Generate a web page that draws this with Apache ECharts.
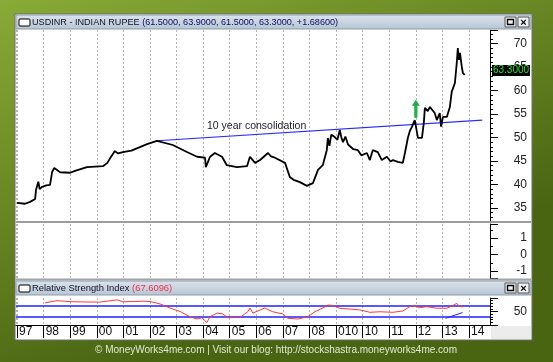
<!DOCTYPE html>
<html><head><meta charset="utf-8">
<script src="https://cdn.jsdelivr.net/npm/echarts@6/dist/echarts.min.js"></script>
<style>html,body{margin:0;padding:0;background:#6d8f24}#c{width:553px;height:362px}</style>
</head><body><div id="c"></div>
<script>
// ---- data ----
const priceYears = [1997.0,1997.3,1997.49,1997.56,1997.68,1997.71,1997.8,1997.85,1997.94,1998.1,1998.24,1998.32,1998.4,1998.62,1999.0,1999.18,1999.63,2000.23,2000.4,2000.5,2000.68,2000.8,2000.98,2001.3,2001.55,2001.89,2002.26,2002.86,2003.39,2003.77,2004.07,2004.1,2004.26,2004.44,2004.71,2004.89,2005.27,2005.65,2005.76,2005.95,2006.14,2006.3,2006.44,2006.55,2006.7,2007.08,2007.26,2007.4,2007.64,2007.9,2008.13,2008.32,2008.5,2008.65,2008.69,2008.75,2008.82,2008.95,2009.05,2009.14,2009.2,2009.26,2009.35,2009.45,2009.52,2009.65,2009.82,2009.95,2010.16,2010.27,2010.38,2010.57,2010.72,2010.91,2011.05,2011.14,2011.32,2011.51,2011.59,2011.7,2011.78,2011.85,2011.96,2012.08,2012.23,2012.3,2012.34,2012.45,2012.53,2012.71,2012.79,2012.9,2012.95,2013.02,2013.17,2013.28,2013.35,2013.47,2013.54,2013.58,2013.62,2013.66,2013.73,2013.77,2013.84];
const priceValues = [36.1,35.9,36.3,36.7,36.9,38.8,40.6,39.0,39.5,39.8,39.9,42.7,43.5,42.6,42.5,42.9,43.7,43.9,44.6,45.6,47.1,46.6,46.9,47.2,47.8,48.6,49.3,48.4,46.9,45.9,45.7,43.7,45.9,46.7,45.9,44.1,43.7,43.9,45.9,44.6,45.2,46.0,46.7,46.0,45.7,44.6,41.6,41.0,40.5,39.7,40.3,43.1,44.1,47.3,49.9,48.2,50.6,50.1,49.5,51.6,50.0,49.0,50.2,48.5,48.8,47.5,47.3,46.2,46.7,45.2,47.3,46.9,45.2,45.9,44.9,45.2,44.8,44.6,46.7,49.9,51.5,52.2,53.7,49.9,49.9,53.1,56.3,55.6,56.5,55.2,53.7,55.2,52.3,54.4,54.4,56.5,59.7,61.6,65.9,69.0,66.5,68.0,65.0,63.7,63.3];
const rsiYears = [1998.05,1998.5,1999.1,1999.74,2000.12,2000.76,2000.98,2001.74,2002.0,2002.38,2002.75,2003.13,2003.5,2003.77,2003.95,2004.14,2004.26,2004.52,2004.74,2004.93,2005.38,2005.68,2005.76,2005.87,2006.32,2006.62,2007.0,2007.19,2007.56,2007.94,2008.2,2008.5,2008.69,2008.88,2009.14,2009.52,2009.89,2010.27,2010.65,2011.14,2011.51,2011.77,2011.89,2012.15,2012.41,2012.79,2013.17,2013.39,2013.54,2013.65,2013.77];
const rsiValues = [82,90,86,85,85,93,86,88,87,78,63,50,31,22,27,9,31,44,41,27,28,49,63,44,63,49,41,25,22,31,49,63,74,72,62,59,56,47,49,47,52,68,72,64,68,62,62,72,80,68,67.6];
const trendLine = [[2002.26, 49.3], [2014.5, 53.7]];
const rsiTrend = [[2013.12, 25], [2013.76, 46]];
const rsiBands = [70, 30];
const arrowPoint = [2012.0, 56.1];
const xTickYears = [1997,1998,1999,2000,2001,2002,2003,2004,2005,2006,2007,2008,2009,2010,2011,2012,2013,2014];
const xTickLabels = ['97','98','99','00','01','02','03','04','05','06','07','08','010','10','11','12','13','14'];
const titleName = 'USDINR - INDIAN RUPEE';
const titleValues = ['61.5000','63.9000','61.5000','63.3000','+1.68600'];
const rsiTitle = 'Relative Strength Index';
const rsiLast = '67.6096';
const lastTag = '63.3000';
const noteText = '10 year consolidation';
const footer = '\u00A9 MoneyWorks4me.com | Visit our blog: http://stockshastra.moneyworks4me.com';

const FONT = 'Liberation Sans';
const xMin = 1996.96, xMax = 2014.79;
const priceData = priceYears.map((y, i) => [y, priceValues[i]]);
const rsiData = rsiYears.map((y, i) => [y, rsiValues[i]]);

function xAxisCfg(idx, showLabels) {
  return {
    type: 'value', gridIndex: idx, min: xMin, max: xMax, splitNumber: 18,
    axisLine: { show: showLabels, lineStyle: { color: '#000', width: 1 } },
    axisTick: { show: showLabels, length: 13, lineStyle: { color: '#000' } },
    axisLabel: {
      show: showLabels, showMinLabel: false, showMaxLabel: false, align: 'left', margin: 1,
      padding: [0, 0, 0, 2], fontFamily: FONT, fontSize: 12, color: '#111',
      formatter: v => { const i = xTickYears.findIndex(y => Math.abs(y - v) < 1e-6); return i >= 0 ? xTickLabels[i] : ''; }
    },
    splitLine: { show: true, lineStyle: { type: [2, 2], color: '#b4b4b4', width: 1 } }
  };
}
function yAxisCfg(idx, opts) {
  return Object.assign({
    type: 'value', gridIndex: idx, position: 'right',
    axisLine: { show: true, lineStyle: { color: '#000', width: 1 } },
    axisTick: { show: true, length: 8, lineStyle: { color: '#000' } },
    minorTick: { show: true, splitNumber: 5, length: 3, lineStyle: { color: '#000' } },
    splitLine: { show: false },
    axisLabel: { showMinLabel: false, showMaxLabel: false, align: 'right', margin: 37, fontFamily: FONT, fontSize: 12, color: '#222' }
  }, opts);
}

const chart = echarts.init(document.getElementById('c'), null, { renderer: 'canvas' });
const barGrad = { type: 'linear', x: 0, y: 0, x2: 0, y2: 1, colorStops: [{ offset: 0, color: '#dbe4ee' }, { offset: 1, color: '#b6c4d2' }] };

function titleBar(y, richText) {
  return [
    { type: 'rect', shape: { x: 16, y: y, width: 515, height: 14 }, style: { fill: barGrad, stroke: '#8f9caa', lineWidth: 1 }, z: 50 },
    { type: 'rect', shape: { x: 19, y: y + 4, width: 11, height: 7, r: 1 }, style: { fill: '#fff', stroke: '#000', lineWidth: 1 }, z: 51 },
    { type: 'text', x: 32, y: y + 7.5, style: richText, z: 51 },
    { type: 'rect', shape: { x: 505, y: y + 2, width: 11, height: 10 }, style: { fill: '#eef0f2', stroke: '#555', lineWidth: 1 }, z: 51 },
    { type: 'rect', shape: { x: 507.5, y: y + 4.5, width: 6, height: 5 }, style: { fill: 'none', stroke: '#000', lineWidth: 1.4 }, z: 52 },
    { type: 'rect', shape: { x: 518, y: y + 2, width: 11, height: 10 }, style: { fill: '#eef0f2', stroke: '#555', lineWidth: 1 }, z: 51 },
    { type: 'text', x: 523.5, y: y + 7.5, style: { text: '\u00D7', font: 'bold 11px ' + FONT, fill: '#000', align: 'center', verticalAlign: 'middle' }, z: 52 }
  ];
}

const option = {
  animation: false,
  grid: [
    { left: 16, right: 63, top: 30, height: 191 },
    { left: 16, right: 63, top: 224, height: 54 },
    { left: 16, right: 63, top: 298, height: 27 }
  ],
  xAxis: [xAxisCfg(0, false), xAxisCfg(1, false), xAxisCfg(2, true)],
  yAxis: [
    yAxisCfg(0, { min: 32.23, max: 72.87, splitNumber: 8,
      axisLabel: { showMinLabel: false, showMaxLabel: false, align: 'right', margin: 37, fontFamily: FONT, fontSize: 12, color: '#222',
        formatter: v => (Math.abs(v - Math.round(v)) < 1e-6 && Math.round(v) % 5 === 0) ? String(Math.round(v)) : '' } }),
    yAxisCfg(1, { min: -1.42, max: 1.85, splitNumber: 3, minorTick: { show: true, splitNumber: 2, length: 3, lineStyle: { color: '#000' } },
      axisLabel: { showMinLabel: false, showMaxLabel: false, align: 'right', margin: 37, fontFamily: FONT, fontSize: 12, color: '#222',
        formatter: v => (Math.abs(v - Math.round(v)) < 1e-6) ? String(Math.round(v)) : '' } }),
    yAxisCfg(2, { min: 0, max: 100, interval: 50,
      axisLabel: { align: 'right', margin: 37, fontFamily: FONT, fontSize: 12, color: '#222', formatter: v => v === 50 ? '50' : '' } })
  ],
  series: [
    {
      type: 'line', xAxisIndex: 0, yAxisIndex: 0, data: priceData, symbol: 'none',
      lineStyle: { color: '#000', width: 1.8 }, z: 5,
      markLine: { silent: true, symbol: 'none', label: { show: false },
        lineStyle: { color: '#2a2aff', width: 1.2, type: 'solid' },
        data: [[{ coord: trendLine[0] }, { coord: trendLine[1] }]] },
      markPoint: { silent: true,
        data: [{ coord: arrowPoint, symbol: 'path://M4,0 L8,6 L5.6,6 L5.6,18 L2.4,18 L2.4,6 L0,6 Z', symbolSize: [8, 18], itemStyle: { color: '#1fae48' }, label: { show: false } }] }
    },
    {
      type: 'line', xAxisIndex: 2, yAxisIndex: 2, data: rsiData, symbol: 'none',
      lineStyle: { color: '#ff3838', width: 1 }, z: 5,
      markLine: { silent: true, symbol: 'none', label: { show: false },
        lineStyle: { color: '#2020ff', width: 1.5, type: 'solid' },
        data: rsiBands.map(b => ({ yAxis: b })).concat([[{ coord: rsiTrend[0], lineStyle: { width: 1 } }, { coord: rsiTrend[1] }]]) }
    }
  ],
  graphic: [
    { type: 'rect', shape: { x: 0, y: 0, width: 553, height: 362 }, z: -20,
      style: { fill: { type: 'linear', x: 0, y: 0, x2: 0.25, y2: 1, colorStops: [{ offset: 0, color: '#88aa36' }, { offset: 1, color: '#4a6512' }] } } },
    { type: 'rect', shape: { x: 15, y: 14, width: 517, height: 326 }, z: -19, style: { fill: '#fff', stroke: '#6e6e6e', lineWidth: 1 } },
    ...titleBar(15, { rich: { a: { font: '9.1px ' + FONT, fill: '#101028' }, b: { font: '9.1px ' + FONT, fill: '#0c0c60' } },
      text: '{a|' + titleName + ' }{b|(' + titleValues.join(', ') + ')}', verticalAlign: 'middle' }),
    { type: 'rect', shape: { x: 16, y: 221, width: 515, height: 2 }, style: { fill: '#9c9c9c' }, z: 50 },
    { type: 'rect', shape: { x: 16, y: 278.5, width: 515, height: 2 }, style: { fill: '#a4a4a4' }, z: 50 },
    ...titleBar(281, { rich: { a: { font: '9.4px ' + FONT, fill: '#101028' }, b: { font: '9.4px ' + FONT, fill: '#f0304a' } },
      text: '{a|' + rsiTitle + ' }{b|(' + rsiLast + ')}', verticalAlign: 'middle' }),
    { type: 'rect', shape: { x: 491, y: 326, width: 40, height: 13 }, style: { fill: '#ececec' }, z: 50 },
    { type: 'rect', shape: { x: 492, y: 65, width: 38, height: 11 }, style: { fill: '#000' }, z: 50 },
    { type: 'text', x: 511, y: 70.5, style: { text: lastTag, font: '10px ' + FONT, fill: '#2ce02c', align: 'center', verticalAlign: 'middle' }, z: 51 },
    { type: 'text', x: 207, y: 126, style: { text: noteText, font: '10.5px ' + FONT, fill: '#1a1a2a', verticalAlign: 'middle' }, z: 51 },
    { type: 'text', x: 276, y: 350, style: { text: footer, font: '10px ' + FONT, fill: '#e2e9d4', align: 'center', verticalAlign: 'middle' }, z: 51 }
  ]
};
chart.setOption(option);
</script></body></html>
